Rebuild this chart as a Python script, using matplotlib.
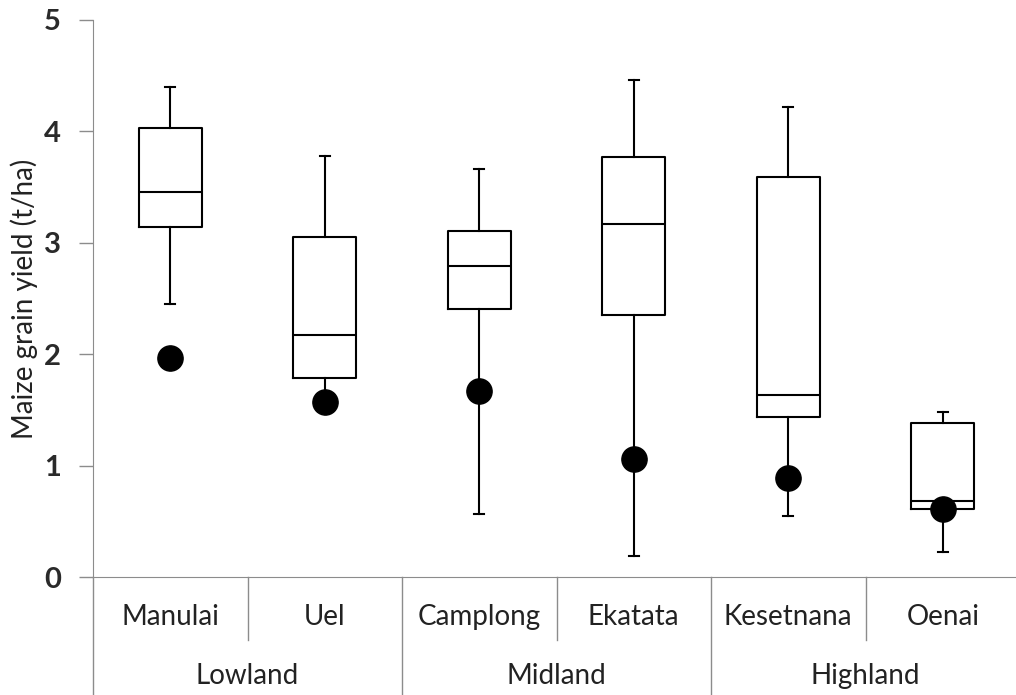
import matplotlib
matplotlib.use("Agg")
import matplotlib.pyplot as plt
from matplotlib.transforms import blended_transform_factory

plt.rcParams['font.family'] = ['Lato', 'DejaVu Sans']

# Sites and elevation zones
sites = ["Manulai", "Uel", "Camplong", "Ekatata", "Kesetnana", "Oenai"]
zones = ["Lowland", "Midland", "Highland"]

# Box-plot statistics of maize grain yield (t/ha) per site
whisker_low = [2.45, 1.62, 0.57, 0.19, 0.55, 0.22]
q1 = [3.14, 1.79, 2.41, 2.35, 1.44, 0.61]
median = [3.46, 2.17, 2.79, 3.17, 1.63, 0.68]
q3 = [4.03, 3.05, 3.11, 3.77, 3.59, 1.38]
whisker_high = [4.40, 3.78, 3.66, 4.46, 4.22, 1.48]

# Yield of the highlighted farm at each site (t/ha)
farm_yield = [1.97, 1.57, 1.67, 1.06, 0.89, 0.61]

W, H = 1016, 695
fig = plt.figure(figsize=(W / 100, H / 100), dpi=100)
ax = fig.add_axes([93 / W, 1 - 577 / H, 927 / W, 557 / H])

stats = []
for i, name in enumerate(sites):
    stats.append(dict(label=name, whislo=whisker_low[i], q1=q1[i], med=median[i],
                      q3=q3[i], whishi=whisker_high[i], fliers=[]))

line_kw = dict(color="black", linewidth=1.5)
ax.bxp(stats, positions=range(len(sites)), widths=0.41, showfliers=False,
       boxprops=line_kw, medianprops=line_kw, whiskerprops=line_kw,
       capprops=line_kw, capwidths=0.065)

ax.scatter(range(len(sites)), farm_yield, s=330, color="black", zorder=5)

ax.set_xlim(-0.5, 5.5)
ax.set_ylim(0, 5)
ax.set_yticks([0, 1, 2, 3, 4, 5])
ax.set_yticklabels(["0", "1", "2", "3", "4", "5"], fontsize=21, fontweight="bold",
                   color="#2a2a2a")

axis_col = "#8c8c8c"
for side in ["top", "right"]:
    ax.spines[side].set_visible(False)
ax.spines["left"].set_color(axis_col)
ax.spines["bottom"].set_color(axis_col)
ax.spines["left"].set_bounds(0, 5)
ax.tick_params(axis="y", color=axis_col, length=10, width=1, pad=13)
ax.tick_params(axis="x", bottom=False, labelbottom=False)

ax.set_ylabel("Maize grain yield (t/ha)", fontsize=20, color="#222222", labelpad=4)

# Two-level category axis
trans = blended_transform_factory(ax.transData, ax.transAxes)
long_drop = -118 / 557
short_drop = -63 / 557
for x in [-0.5, 1.5, 3.5]:
    ax.plot([x, x], [0, long_drop], transform=trans, color=axis_col, lw=1, clip_on=False)
for x in [0.5, 2.5, 4.5]:
    ax.plot([x, x], [0, short_drop], transform=trans, color=axis_col, lw=1, clip_on=False)

for i, name in enumerate(sites):
    ax.text(i, -40 / 557, name, transform=trans, ha="center", va="center",
            fontsize=20, color="#222222")
for j, zone in enumerate(zones):
    ax.text(2 * j + 0.5, -99 / 557, zone, transform=trans, ha="center", va="center",
            fontsize=20, color="#222222")

fig.savefig("out.png", dpi=100)
